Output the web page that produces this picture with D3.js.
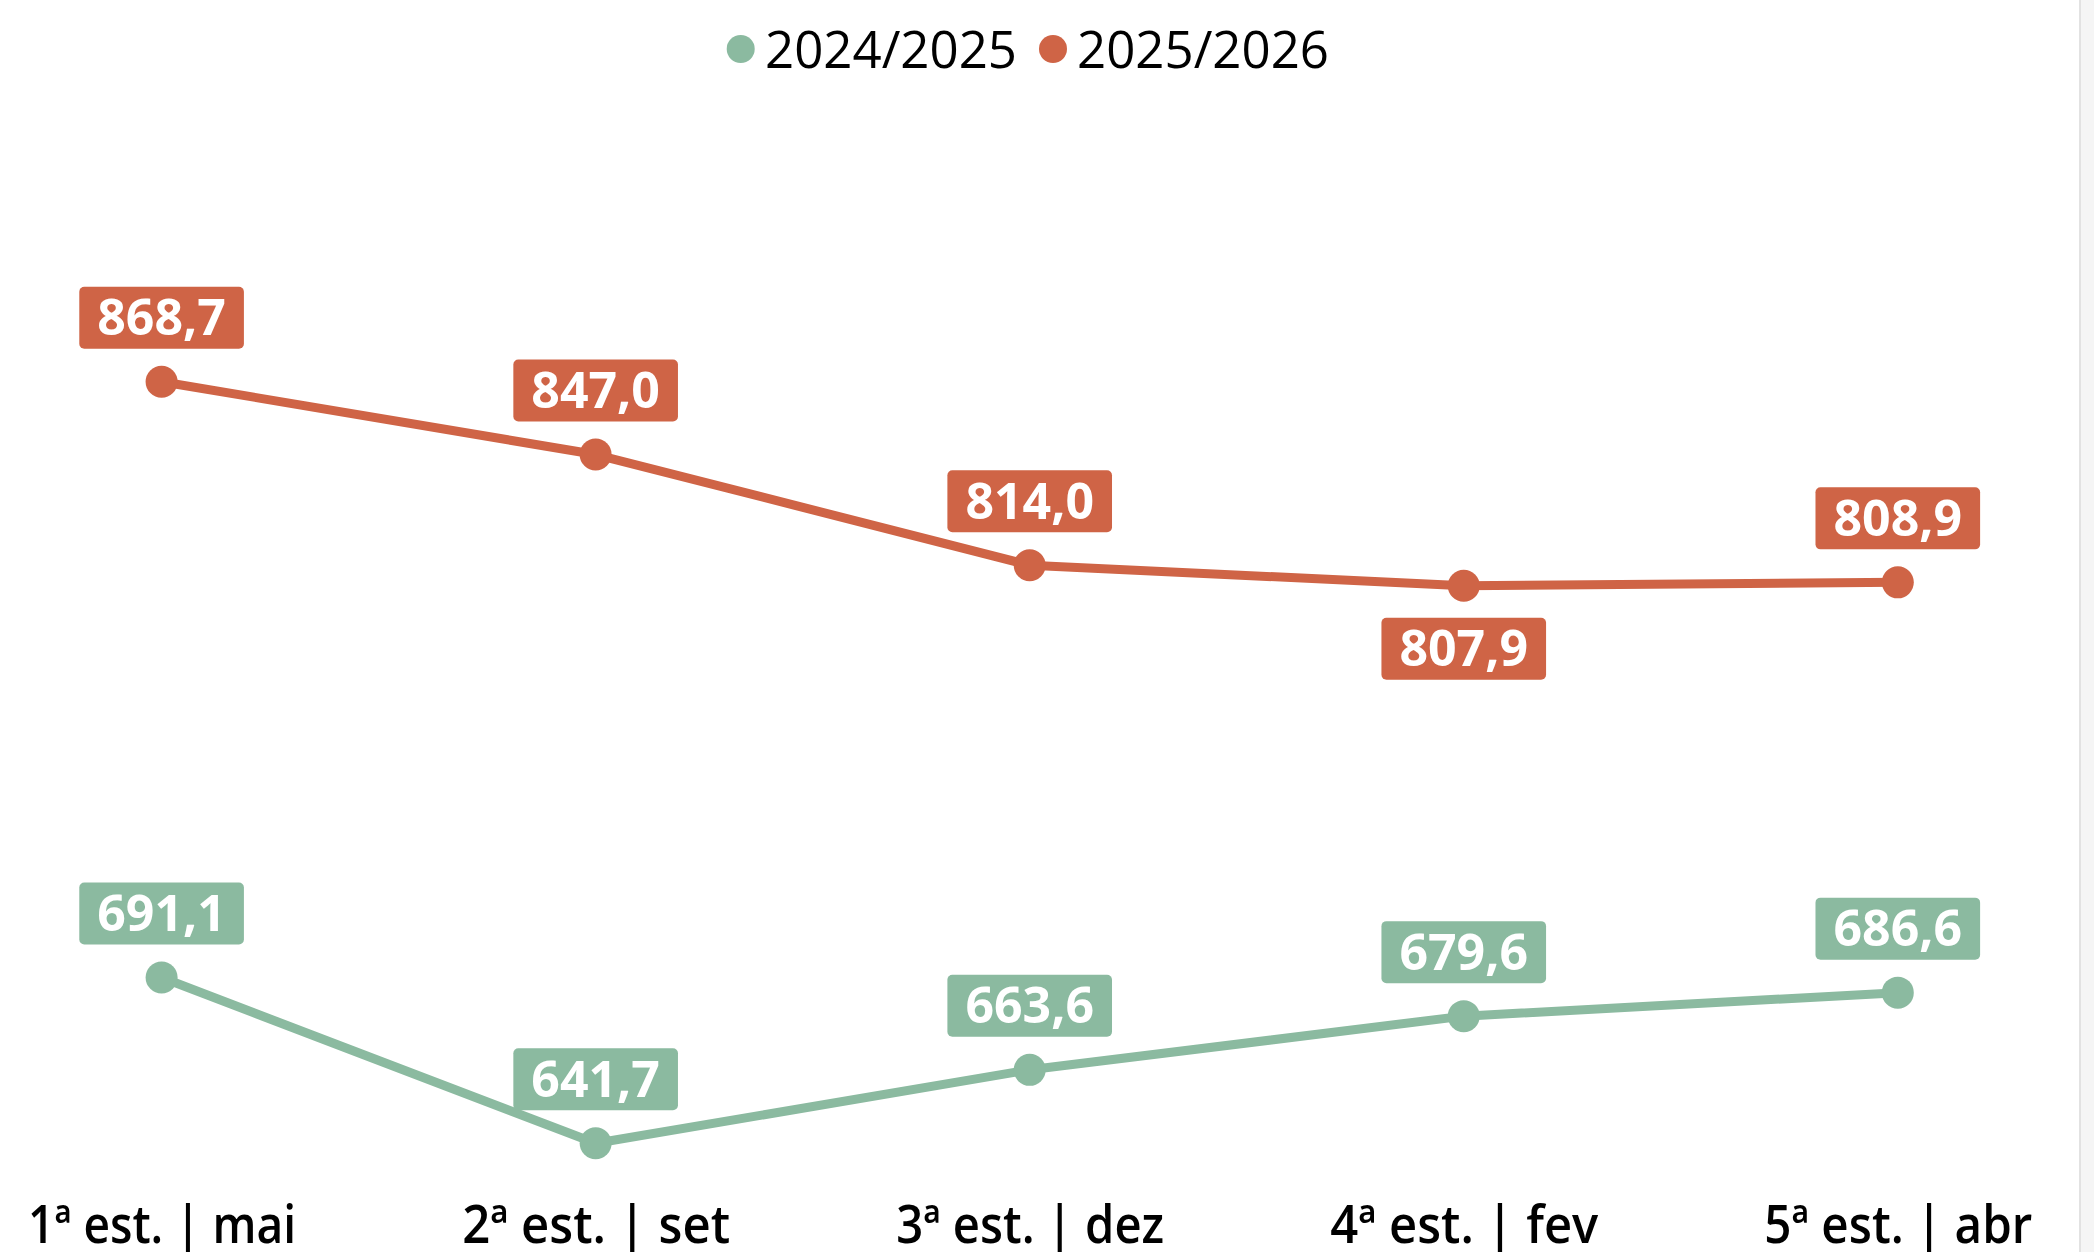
<!DOCTYPE html>
<html>
<head>
<meta charset="utf-8">
<script src="https://cdn.jsdelivr.net/npm/d3@7"></script>
<style>
  html, body { margin: 0; padding: 0; background: #fff; overflow: hidden; }
  svg { display: block; }
</style>
</head>
<body>
<svg id="chart" width="2094" height="1252"></svg>
<script>
const categories = ["1ª est. | mai", "2ª est. | set", "3ª est. | dez", "4ª est. | fev", "5ª est. | abr"];
const seriesNames = ["2024/2025", "2025/2026"];
const values2425 = [691.1, 641.7, 663.6, 679.6, 686.6];
const values2526 = [868.7, 847.0, 814.0, 807.9, 808.9];
const labelBelow2526 = [false, false, false, true, false];
const labelBelow2425 = [false, false, false, false, false];

const colors = { "2024/2025": "#8BBAA0", "2025/2026": "#CF6446" };
const fmt = v => d3.format(".1f")(v).replace(".", ",");

const svg = d3.select("#chart");
const W = 2094, H = 1252;

// right-side strip (scrollbar-like)
svg.append("rect").attr("x", 2079).attr("y", 0).attr("width", 15).attr("height", H).attr("fill", "#f5f5f5");
svg.append("rect").attr("x", 2079).attr("y", 0).attr("width", 2).attr("height", H).attr("fill", "#e2e2e2");

const x = d3.scalePoint().domain(categories).range([161.6, 1897.8]);
const y = d3.scaleLinear().domain([600, 900]).range([1283.2, 276.7]);

// x axis labels
const xAxis = d3.axisBottom(x).tickSize(0).tickPadding(0);
const gx = svg.append("g").attr("transform", "translate(0,1243)").call(xAxis);
gx.select(".domain").remove();
gx.selectAll("text")
  .attr("dy", 0)
  .attr("y", 0)
  .style("font-family", "'Open Sans', 'Noto Sans', sans-serif")
  .style("font-weight", 600)
  .style("font-size", "52px")
  .attr("fill", "#000")
  .each(function () {
    const t = d3.select(this);
    const target = 268;
    const w = this.getComputedTextLength();
    if (w > target) { t.attr("textLength", target).attr("lengthAdjust", "spacingAndGlyphs"); }
  });

const series = [
  { name: "2024/2025", values: values2425, below: labelBelow2425 },
  { name: "2025/2026", values: values2526, below: labelBelow2526 }
];

const line = d3.line().x((d, i) => x(categories[i])).y(d => y(d));

series.forEach(s => {
  const g = svg.append("g");
  g.append("path")
    .attr("d", line(s.values))
    .attr("fill", "none")
    .attr("stroke", colors[s.name])
    .attr("stroke-width", 9)
    .attr("stroke-linejoin", "round");
  g.selectAll("circle").data(s.values).join("circle")
    .attr("cx", (d, i) => x(categories[i]))
    .attr("cy", d => y(d))
    .attr("r", 16)
    .attr("fill", colors[s.name]);
  s.values.forEach((v, i) => {
    const cx = x(categories[i]);
    const cy = y(v);
    const boxH = 62;
    const boxTop = s.below[i] ? cy + 32 : cy - 33 - boxH;
    const lg = g.append("g");
    const rect = lg.append("rect").attr("fill", colors[s.name]).attr("rx", 5).attr("ry", 5);
    const t = lg.append("text")
      .attr("x", cx)
      .attr("y", boxTop + boxH / 2)
      .attr("dy", "0.35em")
      .attr("text-anchor", "middle")
      .style("font-family", "'Open Sans', 'Noto Sans', sans-serif")
      .style("font-weight", 700)
      .style("font-size", "50px")
      .attr("fill", "#fff")
      .text(fmt(v));
    const bw = t.node().getComputedTextLength() + 36;
    rect.attr("x", cx - bw / 2).attr("y", boxTop).attr("width", bw).attr("height", boxH);
  });
});

// legend
const legendPos = [{ cx: 740.7, tx: 765 }, { cx: 1053, tx: 1077 }];
seriesNames.forEach((n, i) => {
  svg.append("circle").attr("cx", legendPos[i].cx).attr("cy", 49).attr("r", 14).attr("fill", colors[n]);
  svg.append("text")
    .attr("x", legendPos[i].tx)
    .attr("y", 68.3)
    .style("font-family", "'Open Sans', 'Noto Sans', sans-serif")
    .style("font-weight", 400)
    .style("font-size", "51px")
    .attr("fill", "#000")
    .text(n);
});
</script>
</body>
</html>
